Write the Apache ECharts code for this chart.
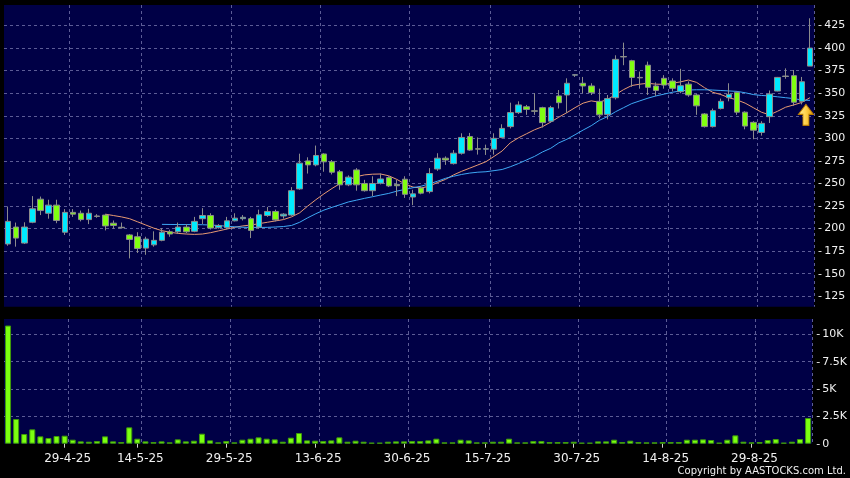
<!DOCTYPE html>
<html><head><meta charset="utf-8">
<script src="https://cdn.jsdelivr.net/npm/echarts/dist/echarts.min.js"></script>
<style>html,body{margin:0;padding:0;background:#000;}#c{width:850px;height:478px;}</style>
</head><body><div id="c"></div>
<script>
const dates = ['16-4-25','17-4-25','22-4-25','23-4-25','24-4-25','25-4-25','28-4-25','29-4-25','30-4-25','2-5-25',
'6-5-25','7-5-25','8-5-25','9-5-25','12-5-25','13-5-25','14-5-25','15-5-25','16-5-25','19-5-25',
'20-5-25','21-5-25','22-5-25','23-5-25','26-5-25','27-5-25','28-5-25','29-5-25','30-5-25','2-6-25',
'3-6-25','4-6-25','5-6-25','6-6-25','9-6-25','10-6-25','11-6-25','12-6-25','13-6-25','16-6-25',
'17-6-25','18-6-25','19-6-25','20-6-25','23-6-25','24-6-25','25-6-25','26-6-25','27-6-25','30-6-25',
'2-7-25','3-7-25','4-7-25','7-7-25','8-7-25','9-7-25','10-7-25','11-7-25','14-7-25','15-7-25',
'16-7-25','17-7-25','18-7-25','21-7-25','22-7-25','23-7-25','24-7-25','25-7-25','28-7-25','29-7-25',
'30-7-25','31-7-25','1-8-25','4-8-25','5-8-25','6-8-25','7-8-25','8-8-25','11-8-25','12-8-25',
'13-8-25','14-8-25','15-8-25','18-8-25','19-8-25','20-8-25','21-8-25','22-8-25','25-8-25','26-8-25',
'27-8-25','28-8-25','29-8-25','1-9-25','2-9-25','3-9-25','4-9-25','5-9-25','8-9-25','9-9-25'];

const opens = [183,201.7,184,207,232.6,217,226,196,218,217,
210,214,215,206,201.5,193,191,178.4,182,187,
196.5,196.5,201.7,197,211,214.5,201,201,208.6,211,
211,201.7,214.5,219,214,215,244,275,270.6,282.7,
274,263,248.5,265,250,242,250.3,256.5,249,254.7,
235,245,241,266,278,272,283.5,302,288.5,288,
288,301,313,328.5,335,330.5,334,319,347,348,
370,361,358,341,326.5,345,390.6,386,367.5,381,
358,366.5,363.5,351.7,360,348,327,313,333,345,
351,329,317.7,306.6,324,352.4,368.5,369.4,341,380];
const closes = [208,189.5,201.7,222,220,226,209,218,216,210,
217,213.5,203,203.5,201,188,178,188.4,187,196,
194,201.7,196.5,208,214.5,200.6,203.5,208.6,211.6,212.5,
198,215.3,219,209.7,216,242,272.5,270.6,281,274,
262.5,248.5,257,248.5,242,250,255,247.3,247.5,238,
238.5,239.3,261,278,276,283.5,301,287,288,288.5,
300,311,328.5,337,332,330,317.4,334,339.5,361,
370.5,358,350.6,326,344,387.5,390.2,367.5,367,356.5,
353,359,355.4,358.3,348,336,313,330.6,341,348.7,
329,313.6,309,316.6,349,367.5,369,340,362.7,400];
const lows = [181,180,183,206,215,211,206,193,213,208,
205,212,198,200,200,167,173,171,180,186,
191,194,195,196,205,199,200,199,208,209,
189.5,200,213,208,211,214,243,261,269,263,
260,243,247,242,241,236,249,246,236,234,
226,238,239,264,270.6,271,282,286,282,281.6,
282,300,311,327,326,326,312,317,333,328,
368,350,348,322,321,343,381,357,355,348,
347,355,352,350,346,326,312,312,332,341,
326,310,299,303,317,352,366,336,337.6,380];
const highs = [224.5,206.7,207,236,235.5,232,232,221.6,221.6,220,
222,216,216,209,206.7,194,196,191,197,200.6,
198.8,206.7,205,213,222.7,217,205,213,217,215,
213,221,224,221,217,246,283,279,292,283.5,
276,265,259,267,254,258,261,258,254,258,
243,247,267,283.5,280,287,305.6,306,301,293,
305.6,315.6,339.5,341,337,350,335,336,353.5,366.5,
371,368,361,355,348,392,406,387,374,385,
362,370,366.5,377,363,349,328,333,344,361,
352,330,319,319,353,368,377.5,375.7,368,433];

const ma10 = [null,null,null,null,null,null,null,null,null,null,
null,null,216,214.5,213,211,207.5,204,200.5,197.7,
196,194.7,194,193.6,194,195.5,197.5,199.5,201.5,203,
204,205.5,207,208.5,210,213,217.5,225,232,238.5,
244.5,250,254,257.5,259.5,260.3,260.5,258.5,254.5,249.5,
246,245,247,251,254.5,259.5,263.5,267,270.5,274.1,
280,286,295,300.5,305,309.5,313,318,323.5,328.5,
334,339,341.5,340,343,348.5,354,358.5,360,361,
360,359.8,361,362.5,364.6,362,356,351,348.5,345,
342.5,339,334,329,326,330,334.5,337,339.8,345];
const ma20 = [null,null,null,null,null,null,null,null,null,null,
null,null,null,null,null,null,null,null,null,204.7,
204.6,204.5,204.5,204.4,204.3,204,203.4,202.6,202,201.5,
201.3,201.3,201.4,201.8,202.3,203.5,207,212,216.5,220.5,
223.6,226.5,229.5,231.5,233.5,235.3,237.2,239,241.5,243.5,
245.3,247,249.5,252.5,255.7,258,260,261.5,262.5,263,
264.2,265.5,268.5,272,276,280,285,289,295,299,
304,309.2,314,320,324,329.5,334,338.5,341.5,344.5,
347,349,351,352.5,353.5,353.8,353.8,353.5,353,352.5,
352,350.5,348.5,347.5,347,346,345,344,342.5,342];

const volumes = [10800,2257,885,1312,671,519,702,732,366,214,
183,244,671,214,153,1495,458,214,153,214,
122,397,214,275,915,305,122,244,122,366,
458,580,458,397,183,549,976,305,275,244,
305,580,183,275,183,92,92,183,214,214,
244,244,305,458,122,122,366,305,122,122,
183,183,458,122,122,244,244,153,153,153,
183,92,92,214,214,366,153,275,153,122,
122,153,153,153,366,366,397,336,92,366,
763,183,122,153,336,427,92,183,427,2349];

const tickDates = ['29-4-25','14-5-25','29-5-25','13-6-25','30-6-25','15-7-25','30-7-25','14-8-25','29-8-25'];
const priceTickLabels = [125,150,175,200,225,250,275,300,325,350,375,400,425];
const volTickValues = [0,2500,5000,7500,10000];
const volTickLabels = ['0','2.5K','5K','7.5K','10K'];
const arrowMark = {date: '9-9-25', price: 326};

const NAVY = '#000046';
const GRID = '#5c5c96';
const FONT = 'DejaVu Sans';

const candleData = dates.map((d, i) => [opens[i], closes[i], lows[i], highs[i]]);
const isTick = i => tickDates.indexOf(dates[i]) >= 0;
const isSplit = i => i > 0 && tickDates.indexOf(dates[i - 1]) >= 0;

const chart = echarts.init(document.getElementById('c'), null, {renderer: 'canvas'});
const priceSplitColors = ['transparent'].concat(priceTickLabels.map(() => GRID)).concat(['transparent']);
const volSplitColors = ['transparent', GRID, GRID, GRID, GRID, 'transparent'];

chart.setOption({
  animation: false,
  backgroundColor: '#000000',
  grid: [
    {left: 4, top: 5, width: 810, height: 301.7, show: true, backgroundColor: NAVY, borderWidth: 0},
    {left: 4, top: 319, width: 810, height: 124.7, show: true, backgroundColor: NAVY, borderWidth: 0}
  ],
  xAxis: [
    {type: 'category', gridIndex: 0, data: dates, boundaryGap: true,
     axisLine: {show: false}, axisTick: {show: false}, axisLabel: {show: false},
     splitLine: {show: true, interval: (i) => isSplit(i), lineStyle: {color: GRID, type: [3, 3], width: 1}}},
    {type: 'category', gridIndex: 1, data: dates, boundaryGap: true,
     axisLine: {show: false},
     axisTick: {show: true, alignWithLabel: true, interval: (i) => isTick(i), length: 4, lineStyle: {color: '#d0d0d0'}},
     axisLabel: {show: true, interval: (i) => isTick(i), color: '#f0f0f0', fontFamily: FONT, fontSize: 12, margin: 6, padding: [0, 0, 0, 6]},
     offset: 3,
     splitLine: {show: true, interval: (i) => isSplit(i), lineStyle: {color: GRID, type: [3, 3], width: 1}}}
  ],
  yAxis: [
    {type: 'value', gridIndex: 0, position: 'right', min: 113.5, max: 447.7, minInterval: 25, maxInterval: 25,
     axisLine: {show: false}, axisTick: {show: false},
     axisLabel: {color: '#f0f0f0', fontFamily: FONT, fontSize: 11, margin: 4,
       formatter: v => priceTickLabels.indexOf(v) >= 0 ? '-\u2009' + v : ''},
     splitLine: {show: true, lineStyle: {color: priceSplitColors, type: [3, 3], width: 1}}},
    {type: 'value', gridIndex: 1, position: 'right', min: 0, max: 11398, minInterval: 2500, maxInterval: 2500,
     axisLine: {show: false}, axisTick: {show: false},
     axisLabel: {color: '#f0f0f0', fontFamily: FONT, fontSize: 11, margin: 4,
       formatter: v => { const k = volTickValues.indexOf(v); return k >= 0 ? '-\u2009' + volTickLabels[k] : ''; }},
     splitLine: {show: true, lineStyle: {color: volSplitColors, type: [3, 3], width: 1}}}
  ],
  series: [
    {name: 'MA10', type: 'line', xAxisIndex: 0, yAxisIndex: 0, data: ma10, showSymbol: false, symbol: 'none',
     lineStyle: {color: '#e89a72', width: 1}, z: 2},
    {name: 'MA20', type: 'line', xAxisIndex: 0, yAxisIndex: 0, data: ma20, showSymbol: false, symbol: 'none',
     lineStyle: {color: '#3ea8f5', width: 1}, z: 2},
    {name: 'Price', type: 'candlestick', xAxisIndex: 0, yAxisIndex: 0, data: candleData, barWidth: 6, z: 3,
     itemStyle: {color: '#00eaff', color0: '#80ff10', borderColor: '#8c8c8c', borderColor0: '#8c8c8c', borderWidth: 1},
     markPoint: {
       symbol: 'path://M7.5,0 L15,10 L10.5,10 L10.5,21 L4.5,21 L4.5,10 L0,10 Z',
       symbolSize: [15, 21], symbolOffset: [-4, 0], label: {show: false},
       itemStyle: {color: new echarts.graphic.LinearGradient(0, 0, 1, 0, [{offset: 0, color: '#fff1a0'}, {offset: 0.5, color: '#ffd24a'}, {offset: 1, color: '#e09a00'}]), borderColor: '#b87a00', borderWidth: 1},
       data: [{coord: [arrowMark.date, arrowMark.price]}]
     }},
    {name: 'Volume', type: 'bar', xAxisIndex: 1, yAxisIndex: 1, data: volumes, barWidth: 6,
     itemStyle: {color: '#7cff10', borderColor: '#3f9a0a', borderWidth: 1}}
  ],
  graphic: [
    {type: 'text', right: 4, top: 466, style: {text: 'Copyright by AASTOCKS.com Ltd.', fill: '#f0f0f0', font: '10px "DejaVu Sans"'}}
  ]
});
</script></body></html>
